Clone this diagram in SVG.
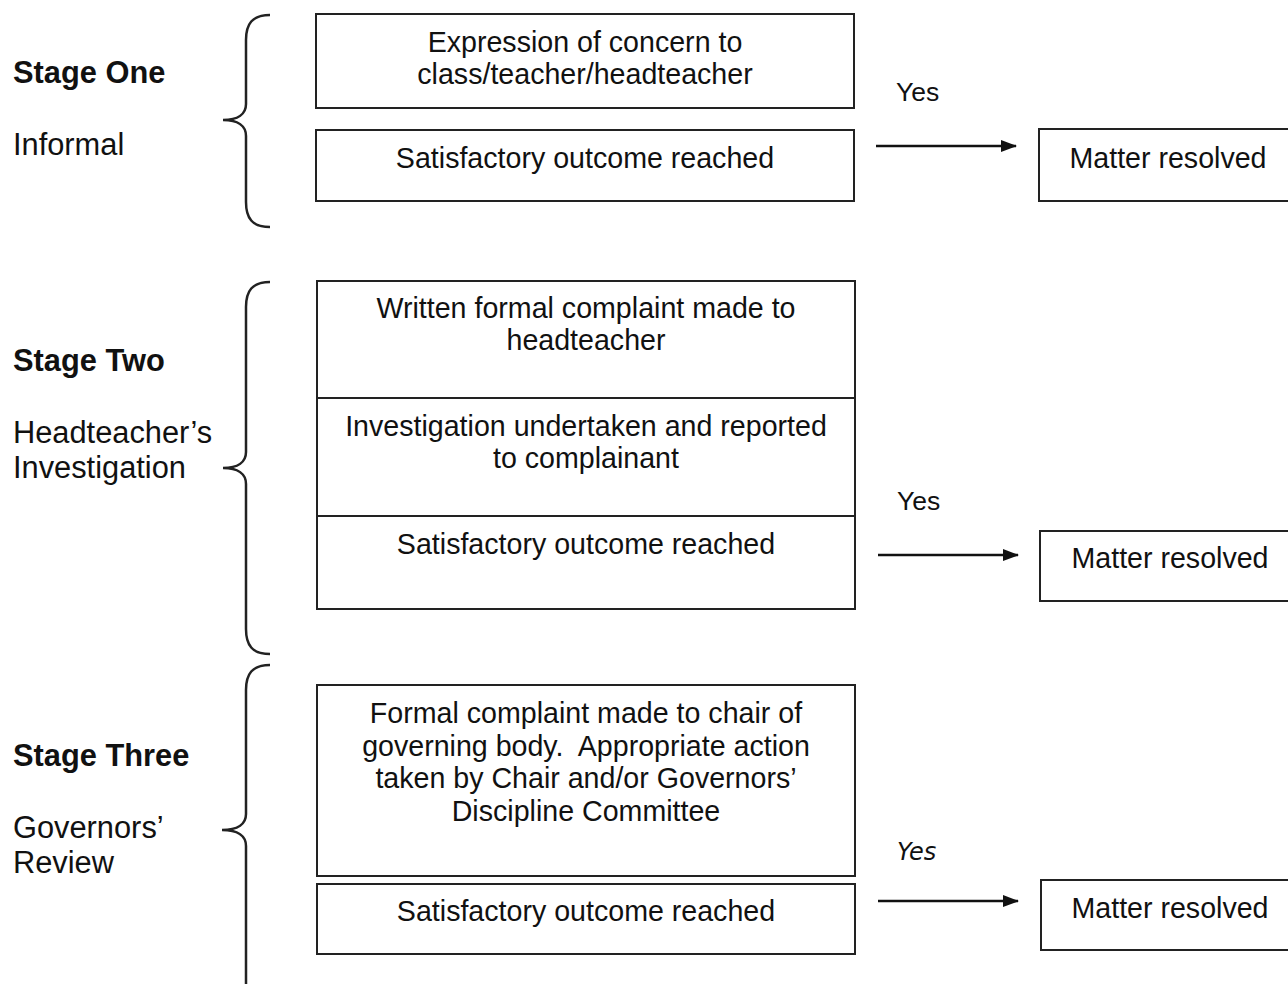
<svg xmlns="http://www.w3.org/2000/svg" width="1288" height="984" viewBox="0 0 1288 984">
<defs>
<style>
.box{fill:#fff;stroke:#222;stroke-width:2}
.t{font-family:"Liberation Sans",Arial,sans-serif;font-size:28.6px;fill:#111;text-anchor:middle}
.l{font-family:"Liberation Sans",Arial,sans-serif;font-size:30.8px;fill:#111}
.b{font-family:"Liberation Sans",Arial,sans-serif;font-size:30.8px;font-weight:bold;fill:#111}
.y{font-family:"Liberation Sans",Arial,sans-serif;font-size:26.5px;fill:#111}
.br{fill:none;stroke:#222;stroke-width:2.5}
.ar{stroke:#111;stroke-width:2.5;fill:none}
</style>
<marker id="ah" markerWidth="16" markerHeight="12" refX="15" refY="6" orient="auto" markerUnits="userSpaceOnUse">
<path d="M0,0 L16,6 L0,12 Z" fill="#111"/>
</marker>
</defs>
<rect width="1288" height="984" fill="#fff"/>

<g id="labels">
<text class="b" x="13" y="83">Stage One</text>
<text class="l" x="13" y="155">Informal</text>
<text class="b" x="13" y="371">Stage Two</text>
<text class="l" x="13" y="443">Headteacher’s</text>
<text class="l" x="13" y="478">Investigation</text>
<text class="b" x="13" y="766">Stage Three</text>
<text class="l" x="13" y="838">Governors’</text>
<text class="l" x="13" y="873">Review</text>
</g>

<g id="braces">
<path class="br" d="M270,15 C252,15 246,24 246,40 L246,104 C246,114 238,120 223,120 C238,120 246,126 246,136 L246,202 C246,218 252,227 270,227"/>
<path class="br" d="M270,282 C252,282 246,291 246,307 L246,452 C246,462 238,468 223,468 C238,468 246,474 246,484 L246,629 C246,645 252,654 270,654"/>
<path class="br" d="M270,665 C252,665 246,674 246,690 L246,814 C246,824 238,830 222,830 C238,830 246,836 246,846 L246,990"/>
</g>

<g id="s1-concern">
<rect class="box" x="316" y="14" width="538" height="94"/>
<text class="t" x="585" y="52">Expression of concern to</text>
<text class="t" x="585" y="84">class/teacher/headteacher</text>
</g>
<g id="s1-outcome">
<rect class="box" x="316" y="130" width="538" height="71"/>
<text class="t" x="585" y="168">Satisfactory outcome reached</text>
</g>
<g id="s1-resolved">
<rect class="box" x="1039" y="129" width="260" height="72"/>
<text class="t" x="1168" y="168">Matter resolved</text>
</g>

<g id="s2-written">
<rect class="box" x="317" y="281" width="538" height="117"/>
<text class="t" x="586" y="318">Written formal complaint made to</text>
<text class="t" x="586" y="350">headteacher</text>
</g>
<g id="s2-investigation">
<rect class="box" x="317" y="398" width="538" height="118"/>
<text class="t" x="586" y="436">Investigation undertaken and reported</text>
<text class="t" x="586" y="468">to complainant</text>
</g>
<g id="s2-outcome">
<rect class="box" x="317" y="516" width="538" height="93"/>
<text class="t" x="586" y="554">Satisfactory outcome reached</text>
</g>
<g id="s2-resolved">
<rect class="box" x="1040" y="531" width="260" height="70"/>
<text class="t" x="1170" y="568">Matter resolved</text>
</g>

<g id="s3-formal">
<rect class="box" x="317" y="685" width="538" height="191"/>
<text class="t" x="586" y="723">Formal complaint made to chair of</text>
<text class="t" x="586" y="756">governing body.&#160; Appropriate action</text>
<text class="t" x="586" y="788">taken by Chair and/or Governors’</text>
<text class="t" x="586" y="821">Discipline Committee</text>
</g>
<g id="s3-outcome">
<rect class="box" x="317" y="884" width="538" height="70"/>
<text class="t" x="586" y="921">Satisfactory outcome reached</text>
</g>
<g id="s3-resolved">
<rect class="box" x="1041" y="880" width="260" height="70"/>
<text class="t" x="1170" y="918">Matter resolved</text>
</g>

<g id="connectors">
<line class="ar" x1="876" y1="146" x2="1016" y2="146" marker-end="url(#ah)"/>
<line class="ar" x1="878" y1="555" x2="1018" y2="555" marker-end="url(#ah)"/>
<line class="ar" x1="878" y1="901" x2="1018" y2="901" marker-end="url(#ah)"/>
<text class="y" x="896" y="101">Yes</text>
<text class="y" x="897" y="510">Yes</text>
<text class="y" x="897" y="860" style="font-family:'DejaVu Sans',sans-serif;font-style:italic;font-size:24px">Yes</text>
</g>
</svg>
